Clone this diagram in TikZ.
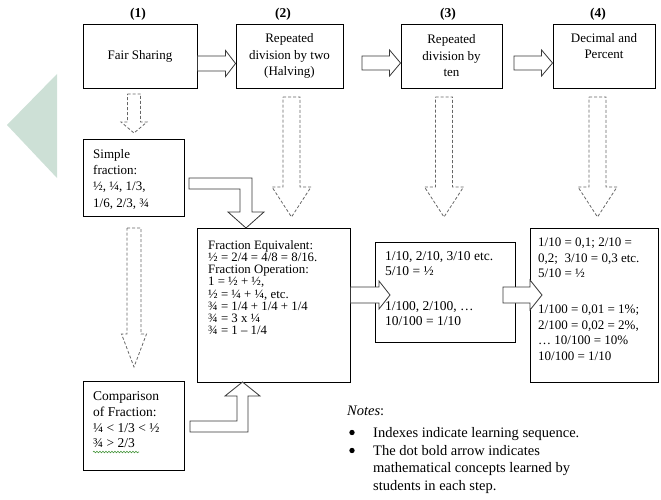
\documentclass[tikz,border=0pt]{standalone}
\usepackage{fontspec}
\setmainfont{Liberation Serif}
\usetikzlibrary{calc,decorations.pathmorphing}
\definecolor{tricol}{RGB}{205,224,214}
\definecolor{spellgreen}{RGB}{70,150,60}
\newcommand\HArrow[5]{% tail, tip, shaft half width, head half width, head length
  \draw[harrow] let \p1=(#1), \p2=(#2) in
    (\x1,\y1+#3) -- (\x2-#5,\y1+#3) -- (\x2-#5,\y1+#4) -- (\x2,\y1)
    -- (\x2-#5,\y1-#4) -- (\x2-#5,\y1-#3) -- (\x1,\y1-#3) -- cycle;}
\newcommand\VArrow[5]{% tail, tip, shaft half width, head half width, head length (downward, dashed)
  \draw[darrow] let \p1=(#1), \p2=(#2) in
    (\x1-#3,\y1) -- (\x1+#3,\y1) -- (\x1+#3,\y2+#5) -- (\x1+#4,\y2+#5) -- (\x1,\y2)
    -- (\x1-#4,\y2+#5) -- (\x1-#3,\y2+#5) -- cycle;}
\begin{document}
\begin{tikzpicture}[x=1pt,y=-1pt,
  box/.style={draw=black, line width=0.9pt, fill=white, inner sep=0pt},
  idx/.style={font=\fontsize{13.5}{16}\selectfont\bfseries, inner sep=0pt},
  toptext/.style={font=\fontsize{13}{16.5}\selectfont, align=center},
  harrow/.style={draw=black!78, line width=0.8pt, fill=white, line join=miter},
  darrow/.style={draw=black!60, line width=0.8pt, dash pattern=on 3pt off 2pt},
  txt/.style={anchor=north west, inner sep=0pt, align=left},
  elbow/.style={draw=black!78, line width=0.8pt, fill=white, line join=miter},
]
\useasboundingbox (0,0) rectangle (661,500);

% decorative triangle
\fill[tricol] (7,125) -- (57,74) -- (57,178) -- cycle;

% index labels
\node[idx] (i1) at (138,14) {(1)};
\node[idx] (i2) at (283,14) {(2)};
\node[idx] (i3) at (448,14) {(3)};
\node[idx] (i4) at (598,14) {(4)};

% top row boxes
\node[box, toptext, minimum width=114, minimum height=64] (b1) at (140,56) {Fair Sharing};
\node[box, toptext, minimum width=107, minimum height=64] (b2) at (289.5,56) {Repeated\\division by two\\(Halving)};
\node[box, toptext, minimum width=101, minimum height=64] (b3) at (451.5,56) {Repeated\\division by\\ten};
\node[box, minimum width=102, minimum height=64] (b4) at (604,56) {};
\node[toptext, inner sep=0pt] (t4) at (604,46) {Decimal and\\Percent};

% lower boxes
\node[box, minimum width=101, minimum height=77] (sf) at (133.5,177.5) {};
\node[box, minimum width=101, minimum height=89] (cmp) at (133.5,425.5) {};
\node[box, minimum width=153, minimum height=154] (fe) at (273.5,305) {};
\node[box, minimum width=140, minimum height=100] (tn) at (445,292) {};
\node[box, minimum width=128, minimum height=154] (dp) at (594,305) {};

% box texts
\node[txt, font=\fontsize{13}{16.3}\selectfont] (tsf) at (93,149)
  {Simple\\fraction:\\½, ¼, 1/3,\\1/6, 2/3, ¾};
\node[txt, font=\fontsize{13.5}{15.7}\selectfont] (tcmp) at (93,391.5)
  {Comparison\\of Fraction:\\¼ < 1/3 < ½\\¾ > 2/3};
\draw[spellgreen, line width=0.6pt, decorate,
      decoration={snake, amplitude=0.8pt, segment length=3pt}] (93,452) -- (139,452);
\node[txt, font=\fontsize{12.8}{12.2}\selectfont] (tfe) at (208,240.3)
  {Fraction Equivalent:\\½ = 2/4 = 4/8 = 8/16.\\Fraction Operation:\\1 = ½ + ½,\\½ = ¼ + ¼, etc.\\¾ = 1/4 + 1/4 + 1/4\\¾ = 3 x ¼\\¾ = 1 – 1/4};
\node[txt, font=\fontsize{13.5}{15}\selectfont] (ttn) at (385,251.5)
  {1/10, 2/10, 3/10 etc.\\5/10 = ½\\[20pt]1/100, 2/100, …\\10/100 = 1/10};
\node[txt, font=\fontsize{13}{15.5}\selectfont] (tdp) at (538,238)
  {1/10 = 0,1; 2/10 =\\0,2;\ \ 3/10 = 0,3 etc.\\5/10 = ½\\[20.5pt]1/100 = 0,01 = 1\%;\\2/100 = 0,02 = 2\%,\\… 10/100 = 10\%\\10/100 = 1/10};

% solid hollow arrows, top row
\coordinate (a12s) at ($(b1.east)+(0,7.5)$);
\coordinate (a12e) at ($(b2.west)+(0,7.5)$);
\HArrow{a12s}{a12e}{7.5}{13}{10}
\coordinate (a23s) at (362,63);
\coordinate (a23e) at ($(b3.west)+(0,7)$);
\HArrow{a23s}{a23e}{7}{13}{11}
\coordinate (a34s) at (514,63);
\coordinate (a34e) at ($(b4.west)+(0,7)$);
\HArrow{a34s}{a34e}{7}{13}{11}

% solid hollow arrows, middle row
\coordinate (m1s) at ($(fe.east)+(0,-10)$);
\coordinate (m1e) at (390,295);
\HArrow{m1s}{m1e}{8}{14}{11}
\coordinate (m2s) at (503,295);
\coordinate (m2e) at (542,295);
\HArrow{m2s}{m2e}{8}{15}{12}

% dashed hollow arrows
\coordinate (d1s) at (134,94);   \coordinate (d1e) at (134,133);
\VArrow{d1s}{d1e}{6.5}{13}{11}
\coordinate (d2s) at (291.5,97); \coordinate (d2e) at (291.5,217);
\VArrow{d2s}{d2e}{8.5}{19.5}{30}
\coordinate (d3s) at (444,97);   \coordinate (d3e) at (444,217);
\VArrow{d3s}{d3e}{8.5}{19.5}{30}
\coordinate (d4s) at (597.5,97); \coordinate (d4e) at (597.5,217);
\VArrow{d4s}{d4e}{8.5}{19.5}{30}
\coordinate (d5s) at (134,228);  \coordinate (d5e) at (134,367);
\VArrow{d5s}{d5e}{7}{12.5}{33}

% elbow arrows into the centre box
\draw[elbow] (189,178) -- (252,178) -- (252,212) -- (264,212) -- (246,228)
  -- (228,212) -- (240,212) -- (240,189) -- (189,189) -- cycle;
\draw[elbow] (190,432) -- (248,432) -- (248,396) -- (260,396) -- (242.5,382)
  -- (225,396) -- (237,396) -- (237,421) -- (190,421) -- cycle;

% notes
\node[anchor=base west, inner sep=0pt, font=\fontsize{14.5}{17.5}\selectfont] (notes) at (347,415) {\textit{Notes}:};
\fill (352,432.5) circle (2.7);
\fill (352,450.5) circle (2.7);
\node[txt, font=\fontsize{14.5}{17.5}\selectfont] (n1) at (373,427) {Indexes indicate learning sequence.};
\node[txt, font=\fontsize{14.5}{17.5}\selectfont] (n2) at (373,445)
  {The dot bold arrow indicates\\mathematical concepts learned by\\students in each step.};
\end{tikzpicture}
\end{document}
